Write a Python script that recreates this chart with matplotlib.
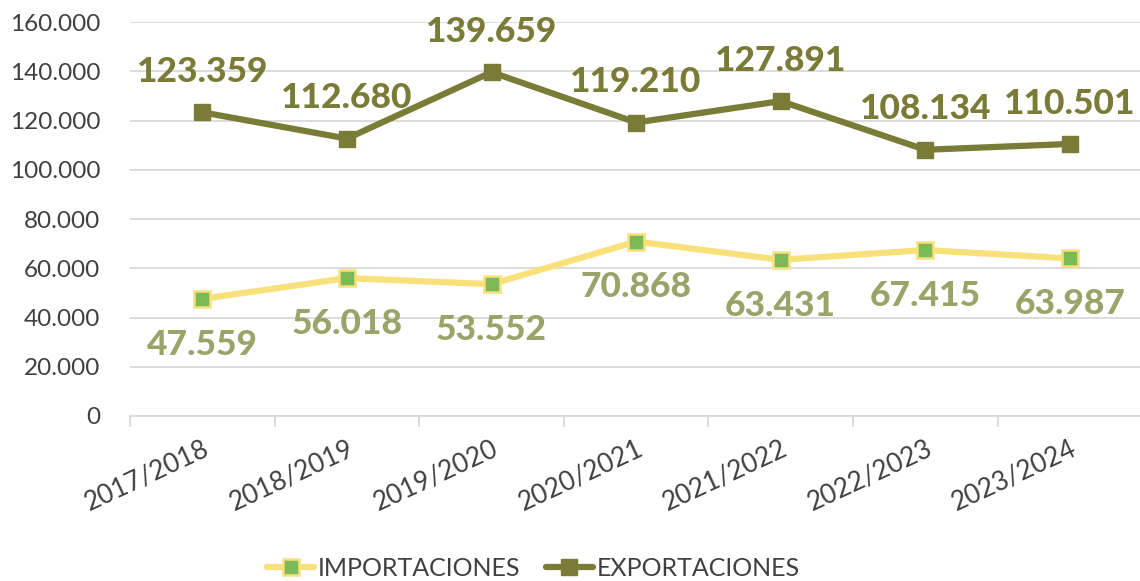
import matplotlib
matplotlib.use("Agg")
import matplotlib.pyplot as plt
from matplotlib.ticker import FuncFormatter, FixedLocator

categories = ["2017/2018", "2018/2019", "2019/2020", "2020/2021", "2021/2022", "2022/2023", "2023/2024"]
importaciones = [47559, 56018, 53552, 70868, 63431, 67415, 63987]
exportaciones = [123359, 112680, 139659, 119210, 127891, 108134, 110501]

plt.rcParams['font.family'] = ['Lato', 'DejaVu Sans']

fig = plt.figure(figsize=(11.4, 5.81), dpi=100)
ax = fig.add_axes([0.114, 0.284, 0.888, 0.678])

x = list(range(len(categories)))
imp_line_c = "#F8E07A"
imp_mark_c = "#7DB956"
exp_c = "#7A7B37"
imp_lbl_c = "#9AA469"

ax.plot(x, importaciones, color=imp_line_c, lw=4.5, marker="s", ms=11,
        markerfacecolor=imp_mark_c, markeredgecolor=imp_line_c, markeredgewidth=1.8,
        label="IMPORTACIONES", solid_capstyle="round", zorder=3)
ax.plot(x, exportaciones, color=exp_c, lw=4.5, marker="s", ms=12,
        markerfacecolor=exp_c, markeredgecolor=exp_c,
        label="EXPORTACIONES", solid_capstyle="round", zorder=3)

def fmt(v):
    return f"{v:,.0f}".replace(",", ".")

for xi, v in zip(x, exportaciones):
    ax.annotate(fmt(v), (xi, v), xytext=(0, 29), textcoords="offset points",
                ha="center", va="center", fontsize=25.5, fontweight="black", color=exp_c)
for xi, v in zip(x, importaciones):
    ax.annotate(fmt(v), (xi, v), xytext=(0, -33), textcoords="offset points",
                ha="center", va="center", fontsize=25.5, fontweight="black", color=imp_lbl_c)

ax.set_xlim(-0.5, len(categories) - 0.5)
ax.set_ylim(0, 160000)
ax.set_yticks(range(0, 160001, 20000))
ax.yaxis.set_major_formatter(FuncFormatter(lambda v, p: fmt(v)))
ax.grid(axis="y", color="#D9D9D9", lw=1.3)
ax.set_axisbelow(True)

ax.set_xticks(x)
ax.set_xticklabels(categories, rotation=25, ha="right", rotation_mode="anchor", fontsize=19, color="#404040")
ax.xaxis.set_minor_locator(FixedLocator([i - 0.5 for i in range(len(categories) + 1)]))
ax.tick_params(axis="x", which="major", length=0, pad=14)
ax.tick_params(axis="x", which="minor", length=8, width=1.3, color="#D9D9D9")
ax.tick_params(axis="y", length=0, labelsize=17.5, labelcolor="#404040", pad=21.5)

for s in ["top", "right", "left"]:
    ax.spines[s].set_visible(False)
ax.spines["bottom"].set_color("#D9D9D9")
ax.spines["bottom"].set_linewidth(1.3)

leg = fig.legend(loc="center", bbox_to_anchor=(0.468, 0.022), ncol=2, frameon=False,
                 fontsize=18, handlelength=1.9, columnspacing=1.0, handletextpad=0.15)
for t in leg.get_texts():
    t.set_color("#404040")

fig.savefig("out.png", dpi=100)
